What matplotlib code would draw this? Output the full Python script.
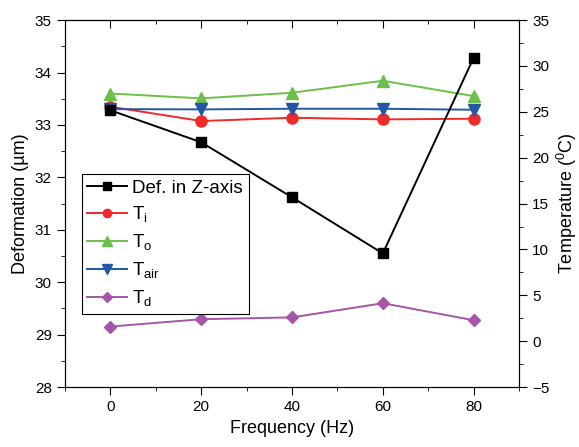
import matplotlib
matplotlib.use('Agg')
import matplotlib.pyplot as plt
from matplotlib.ticker import MultipleLocator, NullFormatter

plt.rcParams['font.family'] = ['Liberation Sans', 'DejaVu Sans']
plt.rcParams['mathtext.fontset'] = 'custom'
plt.rcParams['mathtext.rm'] = 'Liberation Sans'
plt.rcParams['mathtext.it'] = 'Liberation Sans'

freq = [0, 20, 40, 60, 80]
deform = [33.28, 32.67, 31.62, 30.55, 34.28]
t_i = [25.56, 24.0, 24.36, 24.18, 24.25]
t_o = [27.0, 26.47, 27.08, 28.39, 26.72]
t_air = [25.3, 25.27, 25.34, 25.34, 25.23]
t_d = [1.6, 2.4, 2.6, 4.14, 2.29]

fig = plt.figure(figsize=(5.79, 4.47), dpi=100)
ax = fig.add_axes([0.1123, 0.134, 0.7841, 0.821])
ax2 = ax.twinx()

h1, = ax.plot(freq, deform, color='black', marker='s', ms=7, lw=1.4,
              label='Def. in Z-axis', zorder=5)
h2, = ax2.plot(freq, t_i, color='#ee2a2a', marker='o', ms=8, lw=1.4, label='T$_\\mathrm{i}$')
h3, = ax2.plot(freq, t_o, color='#6cc04a', marker='^', ms=9, lw=1.4, label='T$_\\mathrm{o}$')
h4, = ax2.plot(freq, t_air, color='#2456a6', marker='v', ms=9, lw=1.4, label='T$_\\mathrm{air}$')
h5, = ax2.plot(freq, t_d, color='#a556a8', marker='D', ms=6.5, lw=1.4, label='T$_\\mathrm{d}$')

ax.set_xlim(-10, 90)
ax.set_ylim(28, 35)
ax2.set_ylim(-5, 35)

ax.xaxis.set_major_locator(MultipleLocator(20))
ax.xaxis.set_minor_locator(MultipleLocator(10))
ax.yaxis.set_major_locator(MultipleLocator(1))
ax.yaxis.set_minor_locator(MultipleLocator(0.5))
ax2.yaxis.set_major_locator(MultipleLocator(5))
ax2.yaxis.set_minor_locator(MultipleLocator(2.5))

ax.tick_params(axis='both', which='both', direction='out', labelsize=11)
ax.tick_params(which='major', length=6)
ax.tick_params(which='minor', length=3)
ax2.tick_params(which='major', direction='out', length=6, labelsize=11)
ax2.tick_params(which='minor', direction='out', length=3)

# top axis ticks pointing inward
top = ax.secondary_xaxis('top')
top.xaxis.set_major_locator(MultipleLocator(20))
top.xaxis.set_minor_locator(MultipleLocator(10))
top.xaxis.set_major_formatter(NullFormatter())
top.tick_params(which='major', direction='in', length=6)
top.tick_params(which='minor', direction='in', length=3)

ax.set_xlabel('Frequency (Hz)', fontsize=13)
ax.set_ylabel('Deformation (µm)', fontsize=13)
ax2.set_ylabel('Temperature ($^\\mathrm{0}$C)', fontsize=13)

leg = ax.legend(handles=[h1, h2, h3, h4, h5], loc='lower left',
                bbox_to_anchor=(0.037, 0.2), fontsize=13.5, fancybox=False,
                edgecolor='black', framealpha=1, handlelength=2.1,
                borderaxespad=0, labelspacing=0.42, handletextpad=0.3,
                borderpad=0.3, markerscale=0.75)
leg.get_frame().set_linewidth(0.8)
ax.set_zorder(ax2.get_zorder() + 1)
ax.patch.set_visible(False)

fig.savefig('out.png', dpi=100)
